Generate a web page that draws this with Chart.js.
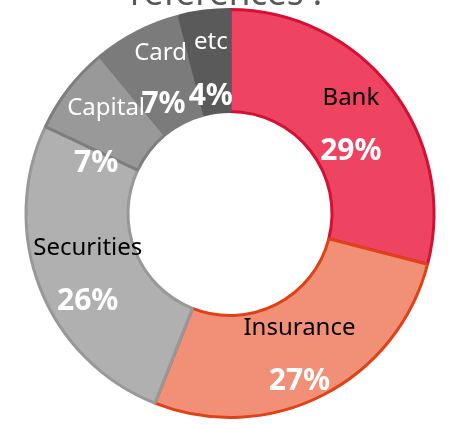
<!DOCTYPE html>
<html lang="en">
<head>
  <meta charset="UTF-8">
  <title>references</title>
  <script src="https://cdn.jsdelivr.net/npm/chart.js"></script>
  <style>
    html, body { margin: 0; padding: 0; background: #fff; overflow: hidden; }
    #wrap { width: 449px; height: 425px; position: relative; }
  </style>
</head>
<body>
  <div id="wrap"><canvas id="chart"></canvas></div>
  <script>
    // data
    const sectors = ['Bank', 'Insurance', 'Securities', 'Capital', 'Card', 'etc'];
    const shares = [29, 27, 26, 7, 7, 4];
    const fills = ['#EF4461', '#F29077', '#B0B0B0', '#999999', '#7B7B7B', '#5A5A5A'];
    const edges = ['#D41035', '#DE4216', '#989898', '#7E7E7E', '#7B7B7B', '#5A5A5A'];
    const nameColors = ['#000', '#000', '#000', '#fff', '#fff', '#fff'];
    const titleText = 'references :';

    const FONT = '"Noto Sans", "Open Sans", sans-serif';

    // small slices crowd each other, push their labels apart a little
    const nudge = {
      Capital: { name: [-3, 10], pct: [-13, 12] },
      Card: { name: [0, -2], pct: [3, -5] },
      etc: { name: [0, 2], pct: [0, 3] }
    };

    // category name above, percent below, around each slice centroid
    const sliceLabels = {
      id: 'sliceLabels',
      afterDatasetsDraw(chart) {
        const ctx = chart.ctx;
        const meta = chart.getDatasetMeta(0);
        ctx.save();
        ctx.textAlign = 'center';
        ctx.textBaseline = 'middle';
        meta.data.forEach((arc, i) => {
          const p = arc.tooltipPosition();
          const n = nudge[sectors[i]] || { name: [0, 0], pct: [0, 0] };
          ctx.font = '24px ' + FONT;
          ctx.fillStyle = nameColors[i];
          ctx.fillText(sectors[i], p.x + n.name[0], p.y - 22 + n.name[1]);
          ctx.font = 'bold 30px ' + FONT;
          ctx.fillStyle = '#fff';
          ctx.fillText(shares[i] + '%', p.x + n.pct[0], p.y + 32 + n.pct[1]);
        });
        ctx.restore();
      }
    };

    // title sits mostly above the visible area
    const topTitle = {
      id: 'topTitle',
      afterDraw(chart) {
        const ctx = chart.ctx;
        ctx.save();
        ctx.font = '35px ' + FONT;
        ctx.fillStyle = '#595959';
        ctx.textAlign = 'center';
        ctx.textBaseline = 'alphabetic';
        ctx.fillText(titleText, 226, 5);
        ctx.restore();
      }
    };

    new Chart(document.getElementById('chart'), {
      type: 'doughnut',
      data: {
        labels: sectors,
        datasets: [{
          data: shares,
          backgroundColor: fills,
          borderColor: edges,
          borderWidth: 3
        }]
      },
      options: {
        responsive: true,
        maintainAspectRatio: false,
        animation: false,
        cutout: '50%',
        layout: { padding: { left: 11, right: 0, top: 8, bottom: 6 } },
        plugins: {
          legend: { display: false },
          tooltip: { enabled: false },
          title: { display: false }
        }
      },
      plugins: [sliceLabels, topTitle]
    });
  </script>
</body>
</html>
